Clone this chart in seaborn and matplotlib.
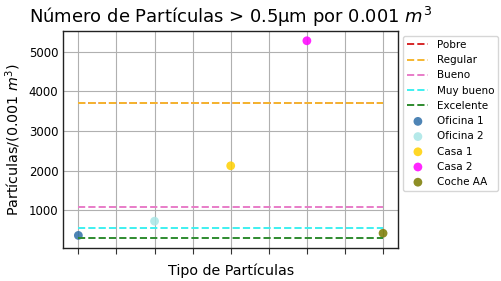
import matplotlib
matplotlib.use("Agg")
import matplotlib.pyplot as plt
import seaborn as sns
import pandas as pd

sns.set_style("whitegrid")
plt.rcParams['font.family'] = ['DejaVu Sans']
plt.rcParams['text.color'] = 'black'
plt.rcParams['axes.labelcolor'] = 'black'
plt.rcParams['xtick.color'] = 'black'
plt.rcParams['ytick.color'] = 'black'

threshold_names = ["Pobre", "Regular", "Bueno", "Muy bueno", "Excelente"]
threshold_values = [3700, 3700, 1085, 550, 295]
threshold_colors = ["#d62728", "#f5b731", "#e87cc8", "#3ef0f0", "#2e8b2e"]
line_span = [0, 8]

site_names = ["Oficina 1", "Oficina 2", "Casa 1", "Casa 2", "Coche AA"]
site_x = [0, 2, 4, 6, 8]
site_values = [360, 720, 2120, 5280, 415]
site_colors = ["#2f6fa8", "#a8e6e6", "#ffd000", "#ff00ff", "#7a7a00"]

fig, ax = plt.subplots(figsize=(5.01, 2.81), dpi=100)
fig.subplots_adjust(left=0.126, right=0.795, top=0.89, bottom=0.118)

for name, val, col in zip(threshold_names, threshold_values, threshold_colors):
    df = pd.DataFrame({"x": line_span, "y": [val, val]})
    sns.lineplot(data=df, x="x", y="y", ax=ax, color=col, linestyle="--",
                 label=name, linewidth=1.4)

for name, xv, yv, col in zip(site_names, site_x, site_values, site_colors):
    df = pd.DataFrame({"x": [xv], "y": [yv]})
    sns.scatterplot(data=df, x="x", y="y", ax=ax, color=col, label=name,
                    s=40, alpha=0.85, edgecolor="none")

ax.set_xticks(range(0, 9))
ax.set_xticklabels([])
ax.set_yticks([1000, 2000, 3000, 4000, 5000])
ax.tick_params(axis="x", length=4, color="#333333", bottom=True)
ax.tick_params(axis="y", labelsize=8.5, left=True, length=0)
for sp in ax.spines.values():
    sp.set_color("#222222")
    sp.set_linewidth(1.0)
ax.grid(True, color="#b0b0b0", linewidth=0.8)

ax.set_title("Número de Partículas > 0.5µm por 0.001 $m^3$", fontsize=13, color="black")
ax.set_xlabel("Tipo de Partículas", fontsize=10.3)
ax.set_ylabel("Partículas/(0.001 $m^3$)", fontsize=10.3)

leg = ax.legend(loc="upper left", bbox_to_anchor=(1.015, 0.977), fontsize=7.5,
                frameon=True, borderaxespad=0.0)
leg.get_frame().set_edgecolor("#cccccc")
for t in leg.get_texts():
    t.set_color("black")

fig.savefig("out.png", dpi=100)
